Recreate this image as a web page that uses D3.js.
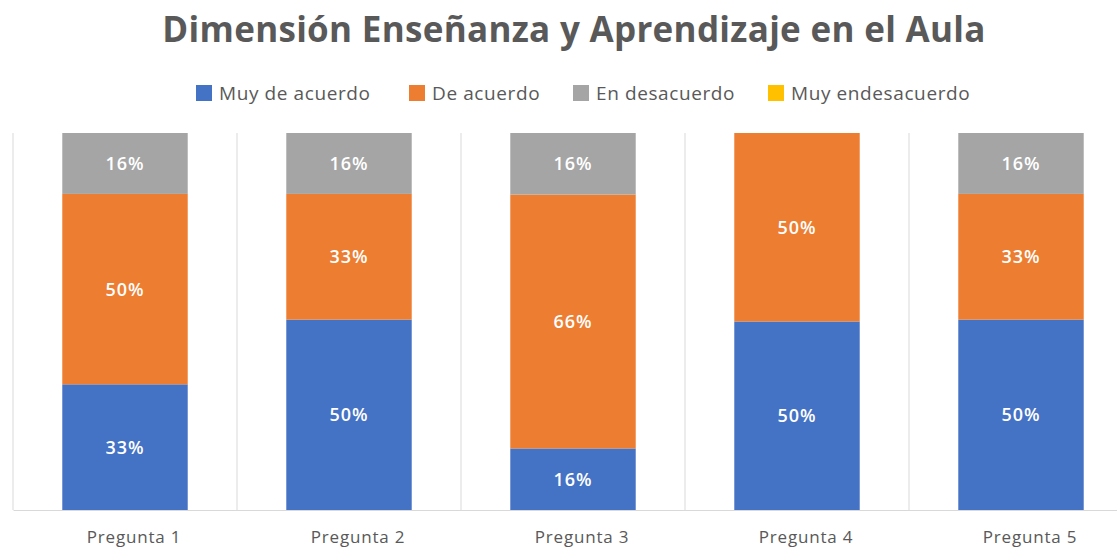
<!DOCTYPE html>
<html><head><meta charset="utf-8">
<script src="https://cdn.jsdelivr.net/npm/d3@7"></script>
<style>
html,body{margin:0;padding:0;background:#fff;overflow:hidden;}
svg{display:block;font-family:"Open Sans",sans-serif;}
</style></head>
<body>
<svg id="chart" width="1117" height="550"></svg>
<script>
const title = "Dimensión Enseñanza y Aprendizaje en el Aula";
const categories = ["Pregunta 1","Pregunta 2","Pregunta 3","Pregunta 4","Pregunta 5"];
const seriesNames = ["Muy de acuerdo","De acuerdo","En desacuerdo","Muy endesacuerdo"];
const seriesColors = ["#4472C4","#ED7D31","#A5A5A5","#FFC000"];
const muyDeAcuerdo = [33,50,16,50,50];
const deAcuerdo = [50,33,66,50,33];
const enDesacuerdo = [16,16,16,0,16];
const muyEnDesacuerdo = [0,0,0,0,0];

(function(){
const seriesValues = [muyDeAcuerdo, deAcuerdo, enDesacuerdo, muyEnDesacuerdo];
const rows = categories.map((c,i)=>{
  const r = {cat:c};
  seriesNames.forEach((s,j)=> r[s] = seriesValues[j][i]);
  return r;
});

const svg = d3.select("#chart");
const pL = 13, pR = 1133, pT = 133, pB = 510;

const x = d3.scaleBand().domain(categories).range([pL,pR]).paddingInner(0.44).paddingOuter(0.22);
const y = d3.scaleLinear().domain([0,1]).range([pB,pT]);

const stack = d3.stack().keys(seriesNames).offset(d3.stackOffsetExpand);
const stacked = stack(rows);

// gridlines (category separators)
const step = x.step();
const sepX = d3.range(categories.length+1).map(i => pL + i*step);
svg.append("g").selectAll("line").data(sepX).join("line")
  .attr("x1",d=>d).attr("x2",d=>d).attr("y1",pT).attr("y2",pB)
  .attr("stroke","#d9d9d9").attr("stroke-width",1);

// bars
const g = svg.append("g");
stacked.forEach((s,j)=>{
  g.append("g").attr("fill",seriesColors[j]).selectAll("rect").data(s).join("rect")
    .attr("x",d=>x(d.data.cat)).attr("width",x.bandwidth())
    .attr("y",d=>y(d[1])).attr("height",d=>y(d[0])-y(d[1]));
});

// data labels
stacked.forEach((s,j)=>{
  g.append("g").selectAll("text").data(s.filter(d=>d.data[s.key]>0)).join("text")
    .attr("x",d=>x(d.data.cat)+x.bandwidth()/2)
    .attr("y",d=>(y(d[0])+y(d[1]))/2)
    .attr("dy","0.36em")
    .attr("text-anchor","middle")
    .attr("fill","#fff")
    .attr("font-size",18).attr("font-weight",600).attr("letter-spacing",1)
    .text(d=>d.data[s.key]+"%");
});

// x axis
const xAxis = svg.append("g").attr("transform",`translate(0,${pB})`)
  .call(d3.axisBottom(x).tickSize(0).tickPadding(0));
xAxis.select(".domain").attr("stroke","#d9d9d9");
xAxis.selectAll("text").attr("font-size",17).attr("fill","#595959")
  .attr("font-family","'Open Sans',sans-serif").attr("letter-spacing",0.8)
  .attr("dx",9).attr("y",21);

// title
svg.append("text").attr("x",574).attr("y",42).attr("text-anchor","middle")
  .attr("font-size",35).attr("font-weight",700).attr("letter-spacing",0.3)
  .attr("fill","#595959").text(title);

// legend
const legendX = [196,409,573,768];
const lg = svg.append("g");
seriesNames.forEach((s,j)=>{
  lg.append("rect").attr("x",legendX[j]).attr("y",85).attr("width",16).attr("height",16).attr("fill",seriesColors[j]);
  lg.append("text").attr("x",legendX[j]+23).attr("y",93).attr("dy","0.36em")
    .attr("font-size",19).attr("letter-spacing",0.6).attr("fill","#595959").text(s);
});
})();
</script>
</body></html>
